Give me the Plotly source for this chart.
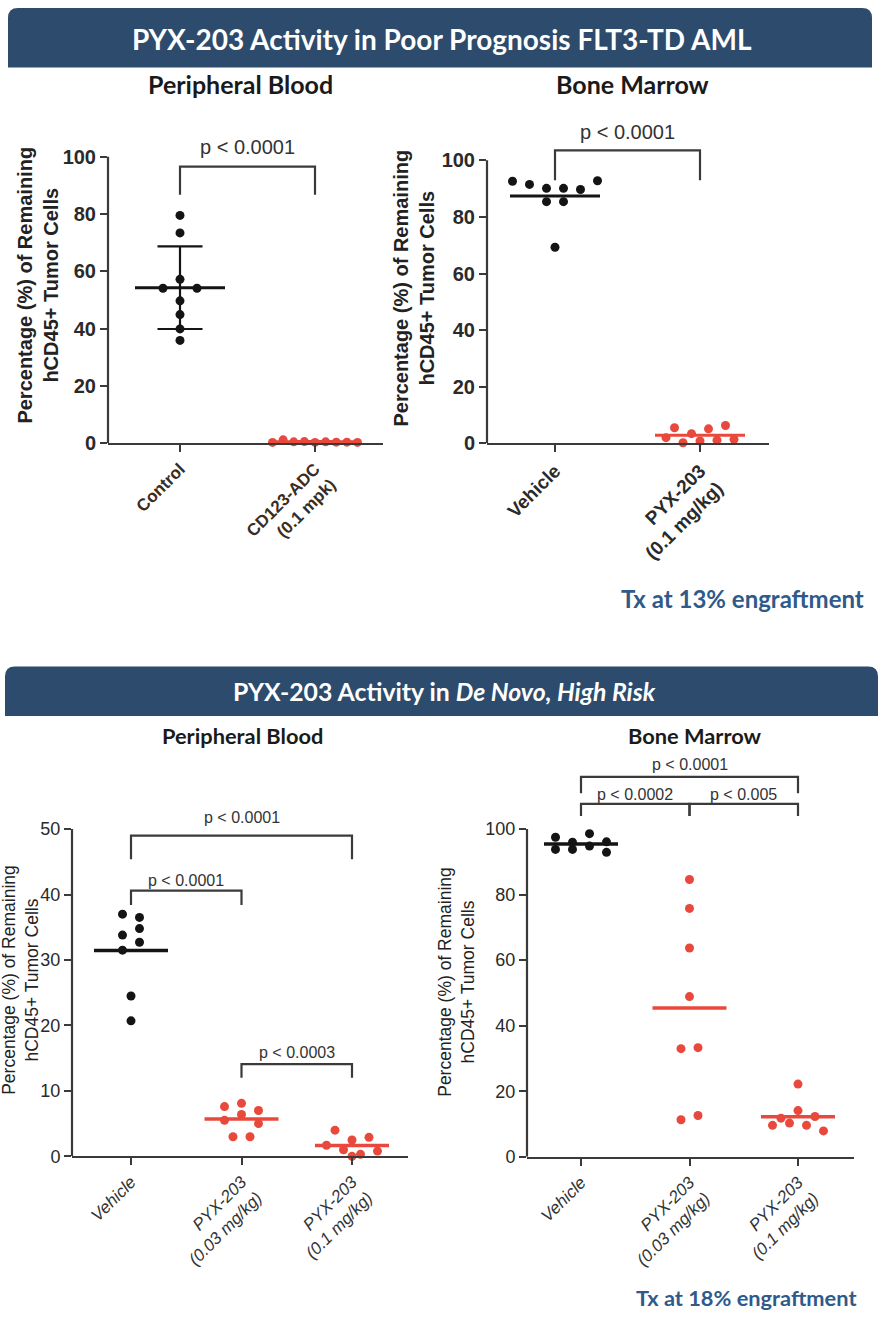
import numpy as np
import plotly.graph_objects as go

W, H = 878, 1327

# ---------------- data ----------------
pb1_labels = ["Control", "CD123-ADC<br>(0.1 mpk)"]
pb1_control = [79.5, 73.4, 54.1, 57.2, 54.1, 49.7, 44.9, 39.9, 35.9]
pb1_cd123 = [0.3, 1.2, 0.5, 0.6, 0.3, 0.5, 0.4, 0.4, 0.3]
pb1_yticks = [0, 20, 40, 60, 80, 100]

bm1_labels = ["Vehicle", "PYX-203<br>(0.1 mg/kg)"]
bm1_vehicle = [92.6, 91.5, 90.1, 90.1, 89.7, 92.8, 85.4, 85.4, 69.3]
bm1_pyx = [5.5, 3.4, 5.1, 2.0, 0.2, 6.3, 0.8, 1.1, 1.4]
bm1_yticks = [0, 20, 40, 60, 80, 100]

pb2_labels = ["Vehicle", "PYX-203<br>(0.03 mg/kg)", "PYX-203<br>(0.1 mg/kg)"]
pb2_vehicle = [37.0, 36.5, 33.8, 34.8, 31.5, 32.7, 24.5, 20.7]
pb2_pyx_003 = [7.6, 8.1, 7.0, 5.5, 6.4, 5.0, 3.0, 3.0]
pb2_pyx_01 = [4.0, 1.7, 0.0, 1.0, 2.5, 0.3, 2.9, 0.8]
pb2_yticks = [0, 10, 20, 30, 40, 50]

bm2_labels = ["Vehicle", "PYX-203<br>(0.03 mg/kg)", "PYX-203<br>(0.1 mg/kg)"]
bm2_vehicle = [97.5, 93.8, 96.0, 98.6, 93.8, 94.8, 96.1, 92.9]
bm2_pyx_003 = [84.6, 75.8, 63.7, 48.9, 33.0, 33.3, 11.3, 12.6]
bm2_pyx_01 = [22.2, 11.8, 14.1, 12.3, 9.6, 10.3, 9.6, 7.9]
bm2_yticks = [0, 20, 40, 60, 80, 100]

# significance comparisons: (group i, group j, bracket top, left leg end, right leg end, label, label y)
pb1_brackets = [(0, 1, 96.5, 86.7, 86.7, "p < 0.0001", 103.5)]
bm1_brackets = [(0, 1, 103.5, 93.0, 93.0, "p < 0.0001", 110.0)]
pb2_brackets = [
    (0, 2, 49.0, 45.4, 45.4, "p < 0.0001", 51.8),
    (0, 1, 40.6, 38.4, 38.4, "p < 0.0001", 42.2),
    (1, 2, 14.1, 12.0, 12.0, "p < 0.0003", 15.8),
]
bm2_brackets = [
    (0, 2, 115.9, 110.9, 110.9, "p < 0.0001", 119.6),
    (0, 1, 107.7, 104.0, 104.0, "p < 0.0002", 110.5),
    (1, 2, 107.7, 104.0, 104.0, "p < 0.005", 110.5),
]

BLACK = "#141414"
RED = "#e8493c"
AXIS = "#3a3a3a"
NAVY = "#2d4b6c"

fig = go.Figure()


def swarm_offsets(values, yppu, xppu, diam, spacing, maxspan):
    v = np.asarray(values, float)
    order = sorted(range(len(v)), key=lambda i: (-v[i], i))
    tol = 1.2 * diam / yppu
    rows, cur, anchor = [], [], None
    for i in order:
        if cur and anchor - v[i] <= tol:
            cur.append(i)
        else:
            if cur:
                rows.append(cur)
            cur, anchor = [i], v[i]
    if cur:
        rows.append(cur)
    off = np.zeros(len(v))
    for r in rows:
        r = sorted(r)
        n = len(r)
        s = spacing if n < 2 else min(spacing, maxspan / (n - 1))
        for k, i in enumerate(r):
            off[i] = (k - (n - 1) / 2) * s / xppu
    return off


def add_panel(k, groups, colors, labels, yticks, g, st, brackets, show_sd=False):
    n = len(groups)
    xppu = (g["c1"] - g["c0"]) / (n - 1)
    yppu = (g["y0"] - g["yt"]) / g["tv"]
    xr = [-(g["c0"] - g["l"]) / xppu, (n - 1) + (g["r"] - g["c1"]) / xppu]
    yr = [0, (g["y0"] - g["top"]) / yppu]
    sx = "" if k == 1 else str(k)
    xa, ya = "x" + sx, "y" + sx
    fig.layout["xaxis" + sx] = dict(
        domain=[g["l"] / W, g["r"] / W], range=xr, anchor=ya,
        tickvals=list(range(n)), ticktext=labels, tickangle=-45,
        showline=True, linecolor=AXIS, linewidth=2.2, ticks="outside",
        ticklen=7, tickwidth=2.2, tickcolor=AXIS, showgrid=False, zeroline=False,
        tickfont=st["xfont"], fixedrange=True,
    )
    fig.layout["yaxis" + sx] = dict(
        domain=[1 - g["y0"] / H, 1 - g["top"] / H], range=yr, anchor=xa,
        tickvals=yticks, showline=False, ticks="outside", ticklen=7,
        tickwidth=2.2, tickcolor=AXIS, showgrid=False, zeroline=False,
        tickfont=st["yfont"], fixedrange=True,
    )
    # y axis line up to the top tick
    fig.add_shape(type="line", xref=xa + " domain", yref=ya, x0=0, x1=0,
                  y0=0, y1=yticks[-1], line=dict(color=AXIS, width=2.2))
    for gi, (vals, col) in enumerate(zip(groups, colors)):
        off = swarm_offsets(vals, yppu, xppu, st["diam"], st["spacing"], st["maxspan"])
        fig.add_trace(go.Scatter(
            x=gi + off, y=vals, mode="markers", xaxis=xa, yaxis=ya,
            marker=dict(size=st["diam"], color=col, line=dict(width=0)),
            cliponaxis=False, hoverinfo="y"))
        m = float(np.mean(vals))
        hw = st["meanw"] / 2 / xppu
        fig.add_trace(go.Scatter(
            x=[gi - hw, gi + hw], y=[m, m], mode="lines", xaxis=xa, yaxis=ya,
            line=dict(color=col, width=st["meanlw"]), cliponaxis=False, hoverinfo="skip"))
        if show_sd:
            sd = float(np.std(vals, ddof=1))
            cw = st["capw"] / 2 / xppu
            fig.add_trace(go.Scatter(
                x=[gi, gi, None, gi - cw, gi + cw, None, gi - cw, gi + cw],
                y=[m - sd, m + sd, None, m + sd, m + sd, None, m - sd, m - sd],
                mode="lines", xaxis=xa, yaxis=ya,
                line=dict(color=col, width=2.2), hoverinfo="skip"))
    for (i, j, yt, yl, yrr, lab, ly) in brackets:
        fig.add_shape(type="path", xref=xa, yref=ya,
                      path=f"M {i},{yl} L {i},{yt} L {j},{yt} L {j},{yrr}",
                      line=dict(color=AXIS, width=2.2))
        fig.add_annotation(x=(i + j) / 2, y=ly, xref=xa, yref=ya, text=lab,
                           showarrow=False, xanchor="center", yanchor="middle",
                           font=st["pfont"])


SANS = "Liberation Sans, Arial, sans-serif"
top_style = dict(
    xfont=dict(family=SANS, size=17, color="#3b2c22", weight="bold"),
    yfont=dict(family=SANS, size=20, color="#2a2a2a", weight="bold"),
    pfont=dict(family=SANS, size=20, color="#333333"),
    diam=9, spacing=17, maxspan=85, meanw=90, meanlw=3, capw=45,
)
top_style_bm = dict(top_style, xfont=dict(family=SANS, size=19, color="#2a2a2a", weight="bold"))
bot_style = dict(
    xfont=dict(family=SANS, size=17, color="#333333", style="italic"),
    yfont=dict(family=SANS, size=18, color="#2a2a2a"),
    pfont=dict(family=SANS, size=16, color="#333333"),
    diam=9, spacing=17, maxspan=85, meanw=74, meanlw=3.5, capw=40,
)

add_panel(1, [pb1_control, pb1_cd123], [BLACK, RED], pb1_labels, pb1_yticks,
          dict(l=108, r=383, c0=180, c1=315, y0=447, yt=158, tv=100, top=118),
          top_style, pb1_brackets, show_sd=True)
add_panel(2, [bm1_vehicle, bm1_pyx], [BLACK, RED], bm1_labels, bm1_yticks,
          dict(l=487, r=769, c0=555, c1=700, y0=447, yt=161.7, tv=100, top=118),
          top_style_bm, bm1_brackets)
add_panel(3, [pb2_vehicle, pb2_pyx_003, pb2_pyx_01], [BLACK, RED, RED], pb2_labels, pb2_yticks,
          dict(l=72, r=408, c0=131, c1=352, y0=1166, yt=836, tv=50, top=812),
          bot_style, pb2_brackets)
add_panel(4, [bm2_vehicle, bm2_pyx_003, bm2_pyx_01], [BLACK, RED, RED], bm2_labels, bm2_yticks,
          dict(l=527, r=854, c0=581, c1=798, y0=1166.5, yt=836, tv=100, top=760),
          bot_style, bm2_brackets)


def banner(x0, x1, y0, y1, r=10):
    X = lambda p: p / W
    Y = lambda p: 1 - p / H
    path = (f"M {X(x0)},{Y(y1)} L {X(x0)},{Y(y0 + r)} Q {X(x0)},{Y(y0)} {X(x0 + r)},{Y(y0)} "
            f"L {X(x1 - r)},{Y(y0)} Q {X(x1)},{Y(y0)} {X(x1)},{Y(y0 + r)} L {X(x1)},{Y(y1)} Z")
    fig.add_shape(type="path", xref="paper", yref="paper", path=path,
                  fillcolor=NAVY, line=dict(width=0), layer="below")


def text(px, py, s, size, color="#1a1a1a", family="Lato, sans-serif", weight="bold",
         xanchor="center", angle=0):
    fig.add_annotation(x=px / W, y=1 - py / H, xref="paper", yref="paper", text=s,
                       showarrow=False, xanchor=xanchor, yanchor="middle", textangle=angle,
                       font=dict(family=family, size=size, color=color, weight=weight))


banner(8, 872, 8, 68)
banner(5, 878, 672, 722)
text(442, 39, "PYX-203 Activity in Poor Prognosis FLT3-TD AML", 28, color="white")
text(444, 697, "PYX-203 Activity in <i>De Novo, High Risk</i>", 24.8, color="white")
text(240, 85, "Peripheral Blood", 25)
text(632, 85, "Bone Marrow", 25)
text(242, 742, "Peripheral Blood", 21.8)
text(695, 742, "Bone Marrow", 21.8)
text(866, 603, "Tx at 13% engraftment", 24, color="#2f5a8a", xanchor="right")
text(859, 1308, "Tx at 18% engraftment", 21.8, color="#2f5a8a", xanchor="right")

ytitle = "Percentage (%) of Remaining<br>hCD45+ Tumor Cells"
text(38, 288, ytitle, 20, color="#222222", family=SANS, angle=-90)
text(414, 291, ytitle, 20, color="#222222", family=SANS, angle=-90)
text(21, 988, ytitle, 17.5, color="#222222", family=SANS, weight="normal", angle=-90)
text(457, 990, ytitle, 17.5, color="#222222", family=SANS, weight="normal", angle=-90)

fig.update_layout(
    width=W, height=H, margin=dict(l=0, r=0, t=0, b=0),
    paper_bgcolor="white", plot_bgcolor="white", showlegend=False,
)
fig.write_html("out.html", config={"displayModeBar": False},
               post_script="document.body.style.margin='0px';document.body.style.padding='0px';")
